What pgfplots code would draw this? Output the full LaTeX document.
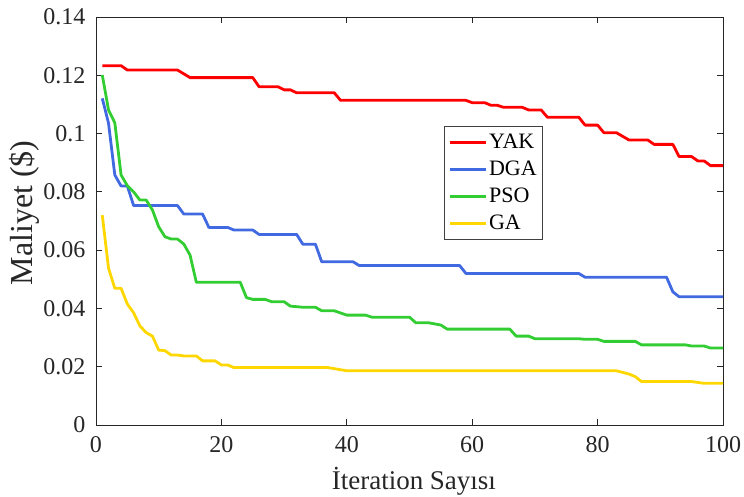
\documentclass[border=0pt]{standalone}
\usepackage{pgfplots}
\pgfplotsset{compat=1.18}
\usepackage{fontspec}
\setmainfont{Liberation Serif}

\definecolor{cyak}{RGB}{255,0,0}
\definecolor{cdga}{RGB}{65,105,225}
\definecolor{cpso}{RGB}{50,205,50}
\definecolor{cga}{RGB}{255,215,0}

\newcommand{\tickfont}{\fontsize{24}{26}\selectfont}

\begin{document}
\begin{tikzpicture}
\begin{axis}[
  at={(0pt,0pt)}, anchor=south west,
  scale only axis,
  width=627pt, height=408pt,
  xmin=0, xmax=100, ymin=0, ymax=0.14,
  xtick={0,20,40,60,80,100},
  xticklabels={0,20,40,60,80,100},
  ytick={0,0.02,0.04,0.06,0.08,0.1,0.12,0.14},
  yticklabels={0,0.02,0.04,0.06,0.08,0.1,0.12,0.14},
  scaled y ticks=false,
  tick align=inside,
  major tick length=6pt,
  tick style={line width=0.8pt, color=black!85},
  axis line style={line width=0.8pt, color=black!85},
  every tick label/.append style={font=\tickfont, text=black!85},
  xticklabel style={yshift=-8pt},
  yticklabel style={xshift=-7pt},
  xlabel={İteration Sayısı},
  ylabel={Maliyet (\$)},
  xlabel style={font=\fontsize{27}{30}\selectfont, text=black!85,
    at={(axis description cs:0.507,-0.1593)}, anchor=base},
  ylabel style={font=\fontsize{32}{34}\selectfont, text=black!85,
    at={(axis description cs:-0.1005,0.52)}, anchor=base},
  legend style={
    at={(0.555,0.733)}, anchor=north west,
    font=\fontsize{22}{24}\selectfont,
    draw=black!75, line width=0.6pt,
    inner xsep=4pt, inner ysep=6pt,
    row sep=7pt,
    cells={anchor=west},
  },
  legend image code/.code={
    \draw[#1, line width=2.8pt] (0pt,0pt) -- (36pt,0pt);
  },
  every axis plot/.append style={line width=2.8pt, line join=round},
]

% YAK
\addplot[cyak] coordinates {
(1,0.1233)(4,0.1233)(5,0.1218)(13,0.1218)(15,0.1192)(25,0.1192)(26,0.1161)
(29,0.1161)(30,0.115)(31,0.115)(32,0.114)(38,0.114)(39,0.1114)(59,0.1114)
(60,0.1106)(62,0.1106)(63,0.1097)(64,0.1097)(65,0.109)(68,0.109)(69,0.1081)
(71,0.1081)(72,0.1056)(77,0.1056)(78,0.1029)(80,0.1029)(81,0.1003)(83,0.1003)
(85,0.0978)(88,0.0978)(89,0.0963)(92,0.0963)(93,0.0921)(95,0.0921)(96,0.0906)
(97,0.0906)(98,0.089)(100,0.089)};
\addlegendentry{YAK}

% DGA
\addplot[cdga] coordinates {
(1,0.1121)(2,0.1035)(3,0.0858)(4,0.082)(5,0.082)(6,0.0753)(13,0.0753)
(14,0.0724)(17,0.0724)(18,0.0678)(21,0.0678)(22,0.0669)(25,0.0669)(26,0.0654)
(32,0.0654)(33,0.062)(35,0.062)(36,0.056)(41,0.056)(42,0.0547)(58,0.0547)
(59,0.052)(77,0.052)(78,0.0507)(91,0.0507)(92,0.0457)(93,0.044)(100,0.044)};
\addlegendentry{DGA}

% PSO
\addplot[cpso] coordinates {
(1,0.1201)(2,0.1081)(3,0.1037)(4,0.0858)(5,0.0821)(6,0.08)(7,0.0772)(8,0.0772)
(9,0.0738)(10,0.068)(11,0.0646)(12,0.0638)(13,0.0638)(14,0.0621)(15,0.0583)
(16,0.049)(23,0.049)(24,0.0437)(25,0.0431)(27,0.0431)(28,0.0423)(30,0.0423)
(31,0.0408)(32,0.0406)(33,0.0404)(35,0.0404)(36,0.0392)(38,0.0392)(40,0.0377)
(43,0.0377)(44,0.037)(50,0.037)(51,0.0351)(53,0.0351)(54,0.0347)(55,0.0343)
(56,0.0329)(66,0.0329)(67,0.0305)(69,0.0305)(70,0.0296)(77,0.0296)(78,0.0294)
(80,0.0294)(81,0.0287)(86,0.0287)(87,0.0275)(94,0.0275)(95,0.0271)(97,0.0271)
(98,0.0264)(100,0.0264)};
\addlegendentry{PSO}

% GA
\addplot[cga] coordinates {
(1,0.072)(2,0.0538)(3,0.0469)(4,0.0469)(5,0.0415)(6,0.0385)(7,0.034)(8,0.0317)
(9,0.0305)(10,0.0257)(11,0.0255)(12,0.024)(13,0.024)(14,0.0237)(16,0.0237)
(17,0.022)(19,0.022)(20,0.0206)(21,0.0206)(22,0.0197)(37,0.0197)(40,0.0186)
(83,0.0186)(85,0.0175)(86,0.0166)(87,0.0149)(95,0.0149)(97,0.0143)(100,0.0143)};
\addlegendentry{GA}

\end{axis}
\pgfresetboundingbox
\path[use as bounding box] (-96pt,-71pt) rectangle (648pt,425pt);
\end{tikzpicture}
\end{document}
